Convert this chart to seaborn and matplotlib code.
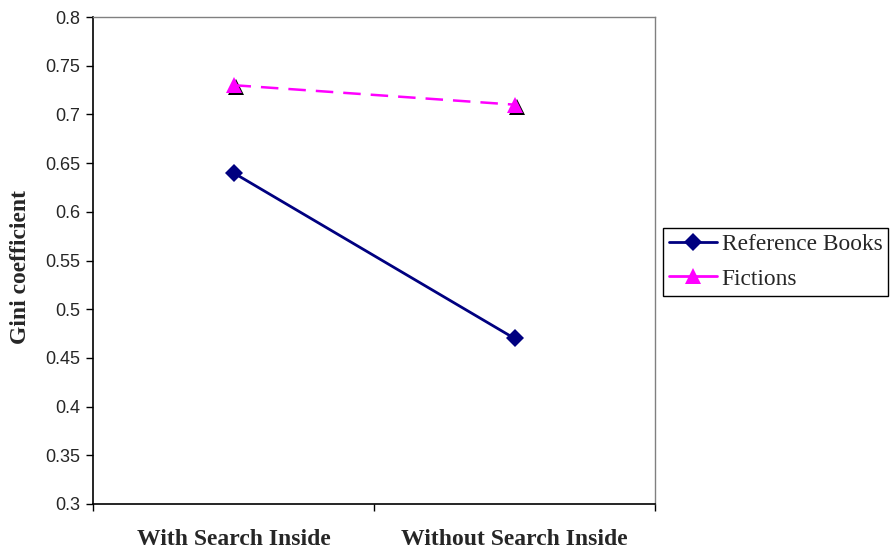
import matplotlib
matplotlib.use("Agg")
import matplotlib.pyplot as plt
import matplotlib.transforms as mtransforms
from matplotlib.lines import Line2D
import seaborn as sns
import pandas as pd

conditions = ["With Search Inside", "Without Search Inside"]
reference_books = [0.64, 0.47]
fictions = [0.73, 0.71]
y_ticks = [0.3, 0.35, 0.4, 0.45, 0.5, 0.55, 0.6, 0.65, 0.7, 0.75, 0.8]
y_tick_labels = ["0.3", "0.35", "0.4", "0.45", "0.5", "0.55", "0.6", "0.65", "0.7", "0.75", "0.8"]

sns.set_style("white")

pos = [i + 0.5 for i in range(len(conditions))]
df = pd.DataFrame({
    "pos": pos * 2,
    "gini": reference_books + fictions,
    "series": ["Reference Books"] * 2 + ["Fictions"] * 2,
})

fig = plt.figure(figsize=(8.91, 5.51), dpi=100)
ax = fig.add_axes([93 / 891, 1 - 504 / 551, (655 - 93) / 891, (504 - 17) / 551])

navy = "#000080"
magenta = "#ff00ff"

sns.lineplot(data=df[df.series == "Reference Books"], x="pos", y="gini", ax=ax,
             color=navy, lw=2, marker="D", markersize=9.5, markeredgewidth=0,
             legend=False)

# drop shadow under the triangle markers
shadow = ax.transData + mtransforms.ScaledTranslation(2 / 100, -2 / 100, fig.dpi_scale_trans)
ax.plot(pos, fictions, ls="none", marker="^", markersize=11, color="black",
        markeredgewidth=0, transform=shadow, zorder=2)
sns.lineplot(data=df[df.series == "Fictions"], x="pos", y="gini", ax=ax,
             color=magenta, lw=1.8, marker="^", markersize=11, markeredgewidth=0,
             linestyle=(0, (7, 4)), legend=False, zorder=3)

ax.set_xlim(0, len(conditions))
ax.set_ylim(0.3, 0.8)
ax.set_yticks(y_ticks)
ax.set_yticklabels(y_tick_labels, fontfamily="Liberation Sans", fontsize=13)
ax.set_xticks(range(len(conditions) + 1))
ax.set_xticklabels([])
ax.set_xticks(pos, minor=True)
ax.set_xticklabels(conditions, minor=True, fontfamily="Liberation Serif",
                   fontweight="bold", fontsize=17)
ax.tick_params(axis="x", which="minor", length=0, pad=18)
ax.tick_params(axis="both", which="major", direction="out", length=5, width=1,
               color="black", left=True, bottom=True)
ax.tick_params(axis="y", pad=4)

ax.set_xlabel("")
ax.set_ylabel("Gini coefficient", fontfamily="Liberation Serif",
              fontweight="bold", fontsize=17)
ax.yaxis.set_label_coords(-0.111, 0.487)

for side in ["left", "bottom"]:
    ax.spines[side].set_color("black")
    ax.spines[side].set_linewidth(1.2)
for side in ["top", "right"]:
    ax.spines[side].set_color("#808080")
    ax.spines[side].set_linewidth(1.0)

handles = [
    Line2D([], [], color=navy, lw=2, marker="D", markersize=9.5, markeredgewidth=0),
    Line2D([], [], color=magenta, lw=2, marker="^", markersize=11, markeredgewidth=0),
]
leg = fig.legend(handles, ["Reference Books", "Fictions"],
                 loc="upper left", bbox_to_anchor=(663 / 891, 1 - 228 / 551),
                 prop={"family": "Liberation Serif", "size": 16.8},
                 frameon=True, fancybox=False, framealpha=1, edgecolor="black",
                 borderpad=0.26, labelspacing=0.55, handlelength=2.05,
                 handletextpad=0.2, borderaxespad=0)
leg.get_frame().set_linewidth(1.0)

fig.savefig("out.png", dpi=100)
